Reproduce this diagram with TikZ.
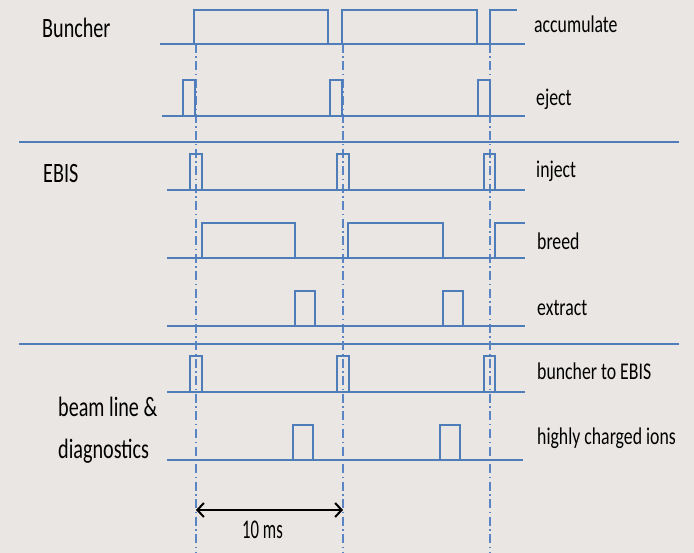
\documentclass[tikz,border=0pt]{standalone}
\usepackage{fontspec}
\setmainfont{Carlito}
\usetikzlibrary{arrows.meta}
\definecolor{bgcol}{RGB}{233,230,227}
\definecolor{sigblue}{RGB}{79,125,185}
\definecolor{gridblue}{RGB}{90,132,195}
\tikzset{
  base/.style={draw=sigblue, line width=2pt},
  pulse/.style={draw=sigblue, line width=1.4pt, line join=miter},
  sep/.style={draw=sigblue, line width=2pt},
  tick/.style={draw=gridblue, line width=1.1pt, dash pattern=on 9pt off 3.5pt on 1.5pt off 3.5pt},
  rlabel/.style={anchor=base west, inner sep=0pt, font=\fontsize{24}{24}\selectfont},
  llabel/.style={anchor=base west, inner sep=0pt, font=\fontsize{28}{28}\selectfont},
}
\newcommand{\rtxt}[1]{\scalebox{0.74}[1]{#1}}
\newcommand{\ltxt}[1]{\scalebox{0.72}[1]{#1}}
% \pulses{baseline y}{high y}{list of start/end}
\newcommand{\pulses}[3]{%
  \foreach \a/\b in {#3} {\draw[pulse] (\a,#1) -- (\a,#2) -- (\b,#2) -- (\b,#1);}}
\begin{document}
\begin{tikzpicture}[x=1pt,y=-1pt]
  \fill[bgcol] (0,0) rectangle (694,553);
  \useasboundingbox (0,0) rectangle (694,553);

  % section separators
  \draw[sep] (19,142) -- (679,142);
  \draw[sep] (19,344) -- (679,344);

  % period markers
  \foreach \n/\x in {a/196, b/343, c/490} {
    \coordinate (top\n) at (\x,44);
    \coordinate (bot\n) at (\x,553);
    \draw[tick] (top\n) -- (bot\n);
  }

  % Buncher: accumulate
  \draw[base] (160,44) -- (525,44);
  \pulses{44}{10}{194/328, 342/477}
  \draw[pulse] (490,44) -- (490,10) -- (517,10);
  % Buncher: eject
  \draw[base] (162,116) -- (525,116);
  \pulses{116}{80}{183/195, 330/342, 478/490}

  % EBIS: inject
  \draw[base] (167,190) -- (525,190);
  \pulses{190}{154}{190/202, 337/349, 484/495}
  % EBIS: breed
  \draw[base] (167,258) -- (525,258);
  \pulses{258}{223}{202/295, 348/443}
  \draw[pulse] (495,258) -- (495,223) -- (525,223);
  % EBIS: extract
  \draw[base] (167,326) -- (525,326);
  \pulses{326}{291}{295/315, 443/463}

  % beam line: buncher to EBIS
  \draw[base] (167,392) -- (525,392);
  \pulses{392}{356}{190/202, 337/349, 484/495}
  % beam line: highly charged ions
  \draw[base] (167,460) -- (523,460);
  \pulses{460}{425}{293/313, 440/460}

  % period arrow
  \coordinate (arrL) at (196,510);
  \coordinate (arrR) at (343,510);
  \draw[line width=2pt, {Straight Barb[length=6.5pt,width=14pt]}-{Straight Barb[length=6.5pt,width=14pt]}] (arrL) -- (arrR);
  \node[rlabel, font=\fontsize{27}{27}\selectfont] (period) at (242,538) {\scalebox{0.62}[1]{10 ms}};

  % group labels
  \node[llabel] (buncher) at (42,38) {\ltxt{Buncher}};
  \node[llabel] (ebis) at (43,183) {\ltxt{EBIS}};
  \node[llabel] (beamline) at (58,417) {\ltxt{beam line \&}};
  \node[llabel] (diag) at (58,458) {\ltxt{diagnostics}};

  % signal labels
  \node[rlabel] (accumulate) at (534,33) {\rtxt{accumulate}};
  \node[rlabel] (eject) at (536,106) {\rtxt{eject}};
  \node[rlabel] (inject) at (536,178) {\rtxt{inject}};
  \node[rlabel] (breed) at (537,250) {\rtxt{breed}};
  \node[rlabel] (extract) at (537,316) {\rtxt{extract}};
  \node[rlabel] (b2e) at (537,380) {\rtxt{buncher to EBIS}};
  \node[rlabel] (hci) at (537,444) {\rtxt{highly charged ions}};
\end{tikzpicture}
\end{document}
